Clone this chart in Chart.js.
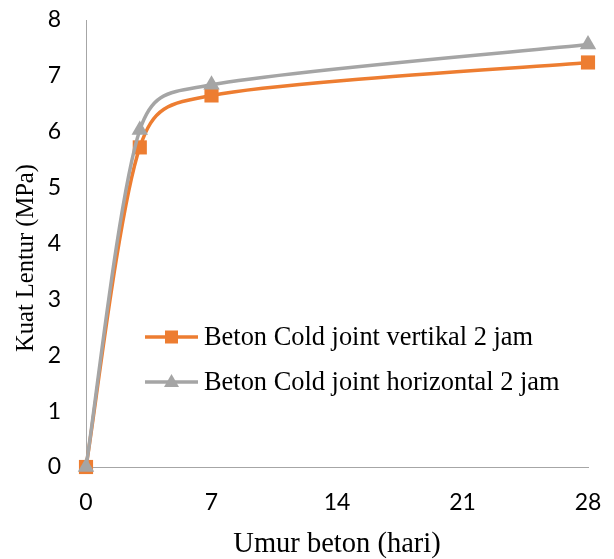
<!DOCTYPE html>
<html>
<head>
<meta charset="utf-8">
<script src="https://cdn.jsdelivr.net/npm/chart.js@4"></script>
<style>
  html, body { margin: 0; padding: 0; background: #fff; }
  #wrap { width: 614px; height: 559px; }
</style>
</head>
<body>
<div id="wrap"><canvas id="c" width="614" height="559"></canvas></div>
<script>
// Umur beton (hari) at which the samples were tested
const umurHari = [0, 3, 7, 28];
// Kuat lentur (MPa)
const vertikal2Jam = [0, 5.72, 6.65, 7.24];
const horizontal2Jam = [0, 6.03, 6.84, 7.56];
const xTicks = [0, 7, 14, 21, 28];
const seriesNames = ['Beton Cold joint vertikal 2 jam', 'Beton Cold joint horizontal 2 jam'];
const xTitle = 'Umur beton (hari)';
const yTitle = 'Kuat Lentur (MPa)';

const ORANGE = '#ED7D31';
const GRAY = '#A5A5A5';
const AXIS = '#A6A6A6';
const TICK_FONT = 'Lato, "Open Sans", sans-serif';
const SERIF = '"Liberation Serif", "DejaVu Serif", serif';

const toPoints = (ys) => umurHari.map((x, i) => ({ x, y: ys[i] }));

// Office-style smoothed line: per-segment Bezier with 1/6 tangents,
// each control offset limited to half of its segment length
const officeSmooth = {
  id: 'officeSmooth',
  beforeDatasetsDraw(chart) {
    const dist = (a, b) => Math.hypot(b.x - a.x, b.y - a.y);
    chart.data.datasets.forEach((ds, di) => {
      const meta = chart.getDatasetMeta(di);
      const line = meta.dataset;
      if (line && typeof line.updateControlPoints === 'function') {
        line.updateControlPoints(chart.chartArea, 'x');
      }
      const pts = meta.data;
      const n = pts.length;
      pts.forEach(p => { p.cp1x = p.x; p.cp1y = p.y; p.cp2x = p.x; p.cp2y = p.y; });
      for (let i = 0; i < n - 1; i++) {
        const p0 = pts[Math.max(0, i - 1)];
        const p1 = pts[i];
        const p2 = pts[i + 1];
        const p3 = pts[Math.min(n - 1, i + 2)];
        const d12 = dist(p1, p2);
        const d02 = dist(p0, p2);
        const d13 = dist(p1, p3);
        const fA = (d02 / 6 > d12 / 2 && d02 > 0) ? (d12 / 2) / d02 : 1 / 6;
        const fB = (d13 / 6 > d12 / 2 && d13 > 0) ? (d12 / 2) / d13 : 1 / 6;
        p1.cp2x = p1.x + (p2.x - p0.x) * fA;
        p1.cp2y = p1.y + (p2.y - p0.y) * fA;
        p2.cp1x = p2.x - (p3.x - p1.x) * fB;
        p2.cp1y = p2.y - (p3.y - p1.y) * fB;
      }
      if (line) line._path = undefined;
    });
  }
};

// Legend inside the plot area and the vertical axis title
const annotations = {
  id: 'annotations',
  afterDraw(chart) {
    const ctx = chart.ctx;
    const items = chart.data.datasets.map(ds => ({
      text: ds.label, color: ds.borderColor, style: ds.pointStyle
    }));
    const x0 = 145, x1 = 198, rowY = [337, 382];
    ctx.save();
    items.forEach((it, i) => {
      const y = rowY[i];
      ctx.strokeStyle = it.color;
      ctx.lineWidth = 3.5;
      ctx.beginPath();
      ctx.moveTo(x0, y);
      ctx.lineTo(x1, y);
      ctx.stroke();
      ctx.fillStyle = it.color;
      const cx = (x0 + x1) / 2;
      if (it.style === 'rect') {
        ctx.fillRect(cx - 6.5, y - 6.5, 13, 13);
      } else {
        ctx.beginPath();
        ctx.moveTo(cx, y - 8);
        ctx.lineTo(cx + 7.5, y + 5);
        ctx.lineTo(cx - 7.5, y + 5);
        ctx.closePath();
        ctx.fill();
      }
      ctx.fillStyle = '#000';
      ctx.font = '26.4px ' + SERIF;
      ctx.textBaseline = 'middle';
      ctx.textAlign = 'left';
      ctx.fillText(it.text, 204, y + 1);
    });

    // y axis title
    ctx.translate(33, 258);
    ctx.rotate(-Math.PI / 2);
    ctx.fillStyle = '#000';
    ctx.font = '24.5px ' + SERIF;
    ctx.textAlign = 'center';
    ctx.textBaseline = 'alphabetic';
    ctx.fillText(yTitle, 0, 0);
    ctx.restore();
  }
};

new Chart(document.getElementById('c'), {
  type: 'line',
  data: {
    datasets: [
      {
        label: seriesNames[0],
        data: toPoints(vertikal2Jam),
        borderColor: ORANGE,
        backgroundColor: ORANGE,
        borderWidth: 3.5,
        pointStyle: 'rect',
        pointRadius: 10,
        pointHoverRadius: 10,
        pointBorderWidth: 0,
        tension: 0.4,
        clip: false,
        order: 2
      },
      {
        label: seriesNames[1],
        data: toPoints(horizontal2Jam),
        borderColor: GRAY,
        backgroundColor: GRAY,
        borderWidth: 3.5,
        pointStyle: 'triangle',
        pointRadius: 9.5,
        pointHoverRadius: 9.5,
        pointBorderWidth: 0,
        tension: 0.4,
        clip: false,
        order: 1
      }
    ]
  },
  options: {
    responsive: false,
    animation: false,
    events: [],
    layout: { padding: { top: 20, right: 26, left: 0, bottom: 0 } },
    plugins: {
      legend: { display: false },
      tooltip: { enabled: false }
    },
    scales: {
      x: {
        type: 'linear',
        min: 0,
        max: 28,
        afterBuildTicks(scale) { scale.ticks = xTicks.map(v => ({ value: v })); },
        afterFit(scale) {
          scale.height = 92;
          scale.paddingLeft = 0;
          scale.paddingRight = 0;
        },
        grid: { display: false, drawTicks: false },
        border: { display: true, color: AXIS, width: 1 },
        ticks: {
          padding: 22,
          color: '#000',
          font: { family: TICK_FONT, size: 23 }
        },
        title: {
          display: true,
          text: xTitle,
          color: '#000',
          font: { family: SERIF, size: 28.5 },
          padding: { top: 9, bottom: -3 }
        }
      },
      y: {
        min: 0,
        max: 8,
        afterFit(scale) {
          scale.width = 86;
          scale.paddingTop = 0;
          scale.paddingBottom = 0;
        },
        grid: { display: false, drawTicks: false },
        border: { display: true, color: AXIS, width: 1 },
        ticks: {
          stepSize: 1,
          padding: 25,
          color: '#000',
          font: { family: TICK_FONT, size: 23 }
        }
      }
    }
  },
  plugins: [officeSmooth, annotations]
});
</script>
</body>
</html>
